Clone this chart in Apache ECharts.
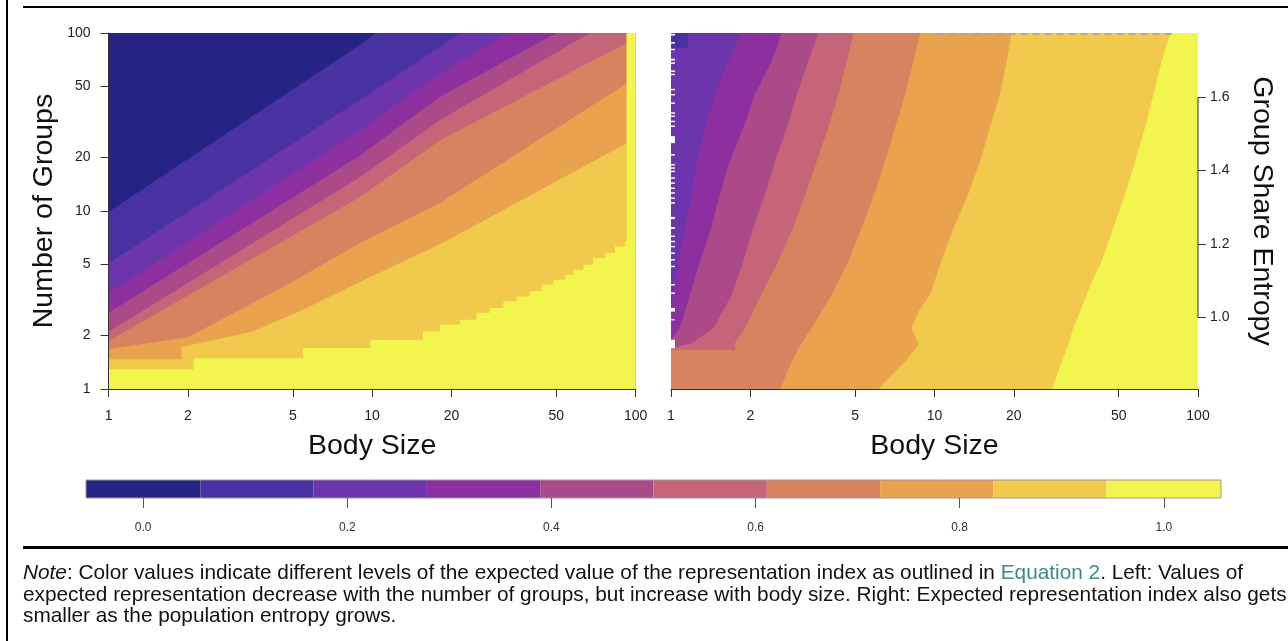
<!DOCTYPE html>
<html><head><meta charset="utf-8">
<script src="https://cdn.jsdelivr.net/npm/echarts@6/dist/echarts.min.js"></script>
<style>
html,body{margin:0;padding:0;background:#fff;}
#wrap{position:relative;width:1288px;height:641px;overflow:hidden;background:#fff;}
#chart{position:absolute;left:0;top:0;width:1288px;height:641px;}
.ln{position:absolute;background:#000;}
#note{position:absolute;left:23px;top:561px;font-family:'Liberation Sans',Arial,Helvetica,sans-serif;font-size:20.8px;line-height:21.5px;color:#111;white-space:nowrap;}
#note .eq{color:#3a8a8a;}
</style></head><body>
<div id="wrap">
<div id="chart"></div>
<div class="ln" style="left:6px;top:0;width:2px;height:641px"></div>
<div class="ln" style="left:23px;top:6px;width:1265px;height:2px"></div>
<div class="ln" style="left:23px;top:546px;width:1265px;height:3px"></div>
<div id="note"><i>Note</i>: Color values indicate different levels of the expected value of the representation index as outlined in <span class="eq">Equation 2</span>. Left: Values of<br>expected representation decrease with the number of groups, but increase with body size. Right: Expected representation index also gets<br>smaller as the population entropy grows.</div>
</div>
<script>
// ---------- data ----------
const bodySizeTicks = [1, 2, 5, 10, 20, 50, 100];
const groupTicks = [1, 2, 5, 10, 20, 50, 100];
const entropyTicks = [1.0, 1.2, 1.4, 1.6];
const entropyRange = [0.805, 1.775];
const colorbarTicks = [0.0, 0.2, 0.4, 0.6, 0.8, 1.0];
const colorbarEdges = [-0.056, 0.056, 0.167, 0.278, 0.389, 0.500, 0.611, 0.722, 0.833, 0.944, 1.056];
const levelColors = ['#252383', '#4831a0', '#6c35ac', '#8c309f', '#aa4a89', '#c56577', '#d8835f', '#e9a34e', '#f1c94c', '#f2f54d'];

// Left panel: upper edge of each level (2..10) as [body size, number of groups]
const leftStripStart = 92.5; // all-yellow strip on the right edge
const leftB2 = [[1, 9.9], [9, 86], [10.3, 100]];
const leftB3 = [[1, 5.08], [9, 42.2], [18.1, 84], [21.6, 100]];
const leftB4 = [[1, 3.45], [9, 28.5], [18.1, 59.4], [33, 100]];
const leftB5 = [[1, 2.68], [9, 20.5], [18.1, 43.9], [50, 100]];
const leftB6 = [[1, 2.10], [9, 15.5], [18.1, 32.5], [67, 100]];
const leftB7 = [[1, 1.86], [9, 12.0], [18.1, 25], [92.5, 88]];
const leftB8 = [[1, 1.68], [2, 1.95], [5, 4.0], [9, 6.6], [18.1, 11.1], [92.5, 52]];
const leftB9 = [[1, 1.47], [1.89, 1.47], [1.89, 1.72], [3.5, 2.1], [5.5, 2.8], [9, 4.0], [18.1, 6.5], [92.5, 24]];
const leftB10 = [[1, 1.29], [2.1, 1.29], [2.1, 1.49], [5.47, 1.49], [5.47, 1.70], [9.85, 1.70], [9.85, 1.89],
  [15.6, 1.89], [15.6, 2.11], [18.1, 2.11], [18.1, 2.30], [21.6, 2.30], [21.6, 2.45], [24.9, 2.45], [24.9, 2.68],
  [28, 2.68], [28, 2.85], [31.5, 2.85], [31.5, 3.11], [35.4, 3.11], [35.4, 3.31], [39.7, 3.31], [39.7, 3.54],
  [44, 3.54], [44, 3.86], [48.7, 3.86], [48.7, 4.11], [54, 4.11], [54, 4.39], [58, 4.39], [58, 4.68],
  [63.4, 4.68], [63.4, 4.99], [69, 4.99], [69, 5.44], [76.5, 5.44], [76.5, 5.81], [83.5, 5.81], [83.5, 6.32],
  [91.2, 6.32], [91.2, 6.72], [92.5, 6.72]];
const leftBoundaries = [leftB2, leftB3, leftB4, leftB5, leftB6, leftB7, leftB8, leftB9, leftB10];

// Right panel: left edge of each level (4..10) as [body size, entropy], top to bottom
const rightC4 = [[1.83, 1.775], [1.65, 1.698], [1.47, 1.607], [1.35, 1.516], [1.25, 1.425], [1.2, 1.334], [1.13, 1.2435], [1.07, 1.153], [1.02, 1.062], [1, 1.0], [1, 0.805]];
const rightC5 = [[2.63, 1.775], [2.41, 1.698], [2.08, 1.607], [1.88, 1.516], [1.67, 1.425], [1.53, 1.334], [1.42, 1.2435], [1.29, 1.153], [1.18, 1.062], [1.08, 0.971], [1, 0.94], [1, 0.805]];
const rightC6 = [[3.62, 1.775], [3.32, 1.698], [3.0, 1.607], [2.75, 1.516], [2.48, 1.425], [2.27, 1.334], [2.05, 1.2435], [1.88, 1.153], [1.70, 1.062], [1.45, 0.971], [1.2, 0.93], [1, 0.915], [1, 0.805]];
const rightC7 = [[4.92, 1.775], [4.64, 1.698], [4.31, 1.607], [3.95, 1.516], [3.57, 1.425], [3.23, 1.334], [2.9, 1.2435], [2.55, 1.153], [2.2, 1.062], [1.91, 0.971], [1.75, 0.93], [1.75, 0.912], [1, 0.912], [1, 0.805]];
const rightC8 = [[8.82, 1.775], [8.32, 1.698], [7.73, 1.607], [7.08, 1.516], [6.49, 1.425], [5.9, 1.334], [5.29, 1.2435], [4.71, 1.153], [4.07, 1.062], [3.42, 0.971], [3.13, 0.93], [2.87, 0.88], [2.6, 0.805]];
const rightC9 = [[19.6, 1.775], [18.8, 1.698], [17.7, 1.607], [16.2, 1.516], [14.9, 1.425], [13.4, 1.334], [11.8, 1.2435], [10.6, 1.153], [10.1, 1.107], [9.6, 1.062], [8.7, 1.016], [8.2, 0.971], [8.7, 0.925], [7.73, 0.88], [6.9, 0.843], [6.12, 0.805]];
const rightC10 = [[78.3, 1.775], [72.8, 1.698], [67.7, 1.607], [62.9, 1.516], [57.7, 1.425], [52.8, 1.334], [47.7, 1.2435], [43.1, 1.153], [40.1, 1.107], [37.8, 1.062], [35.7, 1.016], [33.6, 0.971], [32.2, 0.925], [30.4, 0.88], [27.9, 0.805]];
const rightBoundaries = [rightC4, rightC5, rightC6, rightC7, rightC8, rightC9, rightC10];
const rightLevel2Patch = [1, 1.16, 1.734, 1.775]; // x0, x1, e0, e1
const rightTopDash = [10.2, 83]; // dashed row along the top edge (body size from, to)
const missingX = [1, 1.035];
const missingE = [[1.768, 1.773], [1.746, 1.750], [1.728, 1.732], [1.700, 1.705], [1.691, 1.695], [1.669, 1.673],
  [1.660, 1.664], [1.619, 1.623], [1.605, 1.609], [1.582, 1.586], [1.555, 1.559], [1.546, 1.550], [1.532, 1.536],
  [1.519, 1.523], [1.475, 1.494], [1.441, 1.445], [1.414, 1.418], [1.405, 1.409], [1.396, 1.400], [1.378, 1.382],
  [1.364, 1.368], [1.350, 1.354], [1.337, 1.341], [1.323, 1.327], [1.310, 1.314], [1.268, 1.274], [1.241, 1.246],
  [1.219, 1.223], [1.205, 1.209], [1.191, 1.195], [1.173, 1.177], [1.155, 1.159], [1.137, 1.141], [1.087, 1.091],
  [1.064, 1.068], [1.016, 1.026], [0.992, 0.995], [0.916, 0.939]];

// ---------- chart ----------
const FONT = "'Liberation Sans', Arial, Helvetica, sans-serif";
const NAME_SIZE = 28.5;
const chart = echarts.init(document.getElementById('chart'));

function logAxis(grid, ticks, extra) {
  return Object.assign({
    type: 'log', logBase: 10, gridIndex: grid, min: 1, max: 100, z: 5,
    axisLine: { show: true, lineStyle: { color: '#333', width: 1 } },
    axisTick: { show: true, length: 8, customValues: ticks, lineStyle: { color: '#333' } },
    axisLabel: { customValues: ticks, fontSize: 14, color: '#222', fontFamily: FONT },
    minorTick: { show: false }, splitLine: { show: false }, minorSplitLine: { show: false },
    nameTextStyle: { fontSize: NAME_SIZE, color: '#111', fontFamily: FONT }
  }, extra);
}

function leftRender(params, api) {
  const i = params.dataIndex;
  let pts;
  if (i === 0) pts = [[1, 1], [1, 100], [100, 100], [100, 1]];
  else pts = [[1, 1]].concat(leftBoundaries[i - 1], [[leftStripStart, 100], [100, 100], [100, 1]]);
  return { type: 'polygon', shape: { points: pts.map(p => api.coord(p)) }, style: { fill: levelColors[i], stroke: null } };
}

function rightRender(params, api) {
  const i = params.dataIndex;
  const e0 = entropyRange[0], e1 = entropyRange[1];
  const nb = rightBoundaries.length;
  if (i === nb + 2) {
    const a = api.coord([rightTopDash[0], e1]);
    const b = api.coord([rightTopDash[1], e1]);
    return { type: 'line', shape: { x1: a[0], y1: a[1] + 1, x2: b[0], y2: b[1] + 1 }, style: { stroke: '#b0a090', lineWidth: 1.5, lineDash: [7, 5] } };
  }
  let pts, fill = '#fff';
  if (i === 0) { pts = [[1, e0], [1, e1], [100, e1], [100, e0]]; fill = levelColors[2]; }
  else if (i <= nb) { pts = rightBoundaries[i - 1].concat([[100, e0], [100, e1]]); fill = levelColors[i + 2]; }
  else if (i === nb + 1) {
    const p = rightLevel2Patch;
    pts = [[p[0], p[2]], [p[0], p[3]], [p[1], p[3]], [p[1], p[2]]]; fill = levelColors[1];
  } else {
    const m = missingE[i - nb - 3];
    pts = [[missingX[0], m[0]], [missingX[0], m[1]], [missingX[1], m[1]], [missingX[1], m[0]]]; fill = '#ffffff';
  }
  return { type: 'polygon', shape: { points: pts.map(p => api.coord(p)) }, style: { fill: fill, stroke: null } };
}

function rightAxisLine(params, api) {
  const a = api.coord([100, entropyTicks[0]]);
  const b = api.coord([100, entropyTicks[entropyTicks.length - 1]]);
  return { type: 'line', shape: { x1: a[0], y1: a[1], x2: b[0], y2: b[1] }, style: { stroke: '#333', lineWidth: 1 }, z2: 10 };
}

function colorbarRender(params, api) {
  const i = params.dataIndex;
  if (i < levelColors.length) {
    const a = api.coord([colorbarEdges[i], 1]);
    const b = api.coord([colorbarEdges[i + 1], 0]);
    return { type: 'rect', shape: { x: a[0], y: a[1], width: b[0] - a[0], height: b[1] - a[1] }, style: { fill: levelColors[i] } };
  }
  const a = api.coord([colorbarEdges[0], 1]);
  const b = api.coord([colorbarEdges[colorbarEdges.length - 1], 0]);
  return { type: 'rect', shape: { x: a[0], y: a[1], width: b[0] - a[0], height: b[1] - a[1] }, style: { fill: null, stroke: '#999', lineWidth: 1 }, z2: 10 };
}

const leftData = levelColors.map((c, i) => [1, 1, i]);
const rightData = [];
for (let i = 0; i < 1 + rightBoundaries.length + 2 + missingE.length; i++) rightData.push([1, 1, i]);
const cbData = levelColors.map((c, i) => [0.5, 0.5, i]).concat([[0.5, 0.5, 99]]);

const xLabel = { customValues: bodySizeTicks, fontSize: 14, color: '#222', margin: 20, fontFamily: FONT };

chart.setOption({
  animation: false,
  backgroundColor: '#fff',
  textStyle: { fontFamily: FONT },
  grid: [
    { left: 108.6, top: 33, width: 527, height: 356 },
    { left: 671, top: 33, width: 527, height: 356 },
    { left: 86, top: 480, width: 1135, height: 18 }
  ],
  xAxis: [
    logAxis(0, bodySizeTicks, { name: 'Body Size', nameLocation: 'middle', nameGap: 43, axisLabel: xLabel }),
    logAxis(1, bodySizeTicks, { name: 'Body Size', nameLocation: 'middle', nameGap: 43, axisLabel: xLabel }),
    { type: 'value', gridIndex: 2, min: colorbarEdges[0], max: colorbarEdges[colorbarEdges.length - 1], z: 5,
      axisLine: { show: false },
      axisTick: { show: true, length: 10, customValues: colorbarTicks, lineStyle: { color: '#555' } },
      axisLabel: { customValues: colorbarTicks, formatter: v => v.toFixed(1), fontSize: 12, color: '#333', margin: 24, fontFamily: FONT },
      splitLine: { show: false } }
  ],
  yAxis: [
    logAxis(0, groupTicks, { name: 'Number of Groups', nameLocation: 'middle', nameRotate: 90, nameGap: 50, axisLabel: { customValues: groupTicks, fontSize: 14, color: '#222', margin: 18, fontFamily: FONT } }),
    { type: 'value', gridIndex: 1, position: 'right', min: entropyRange[0], max: entropyRange[1], z: 5,
      name: 'Group Share Entropy', nameLocation: 'middle', nameRotate: -90, nameGap: 49,
      nameTextStyle: { fontSize: NAME_SIZE, color: '#111', fontFamily: FONT },
      axisLine: { show: false },
      axisTick: { show: true, length: 8, customValues: entropyTicks, lineStyle: { color: '#333' } },
      axisLabel: { customValues: entropyTicks, formatter: v => v.toFixed(1), fontSize: 14, color: '#222', margin: 12, fontFamily: FONT },
      splitLine: { show: false } },
    { type: 'value', gridIndex: 2, min: 0, max: 1, show: false }
  ],
  series: [
    { type: 'custom', xAxisIndex: 0, yAxisIndex: 0, renderItem: leftRender, data: leftData, silent: true },
    { type: 'custom', xAxisIndex: 1, yAxisIndex: 1, renderItem: rightRender, data: rightData, silent: true },
    { type: 'custom', xAxisIndex: 1, yAxisIndex: 1, renderItem: rightAxisLine, data: [[1, 1]], silent: true, z: 6 },
    { type: 'custom', xAxisIndex: 2, yAxisIndex: 2, renderItem: colorbarRender, data: cbData, silent: true }
  ]
});
</script>
</body></html>
